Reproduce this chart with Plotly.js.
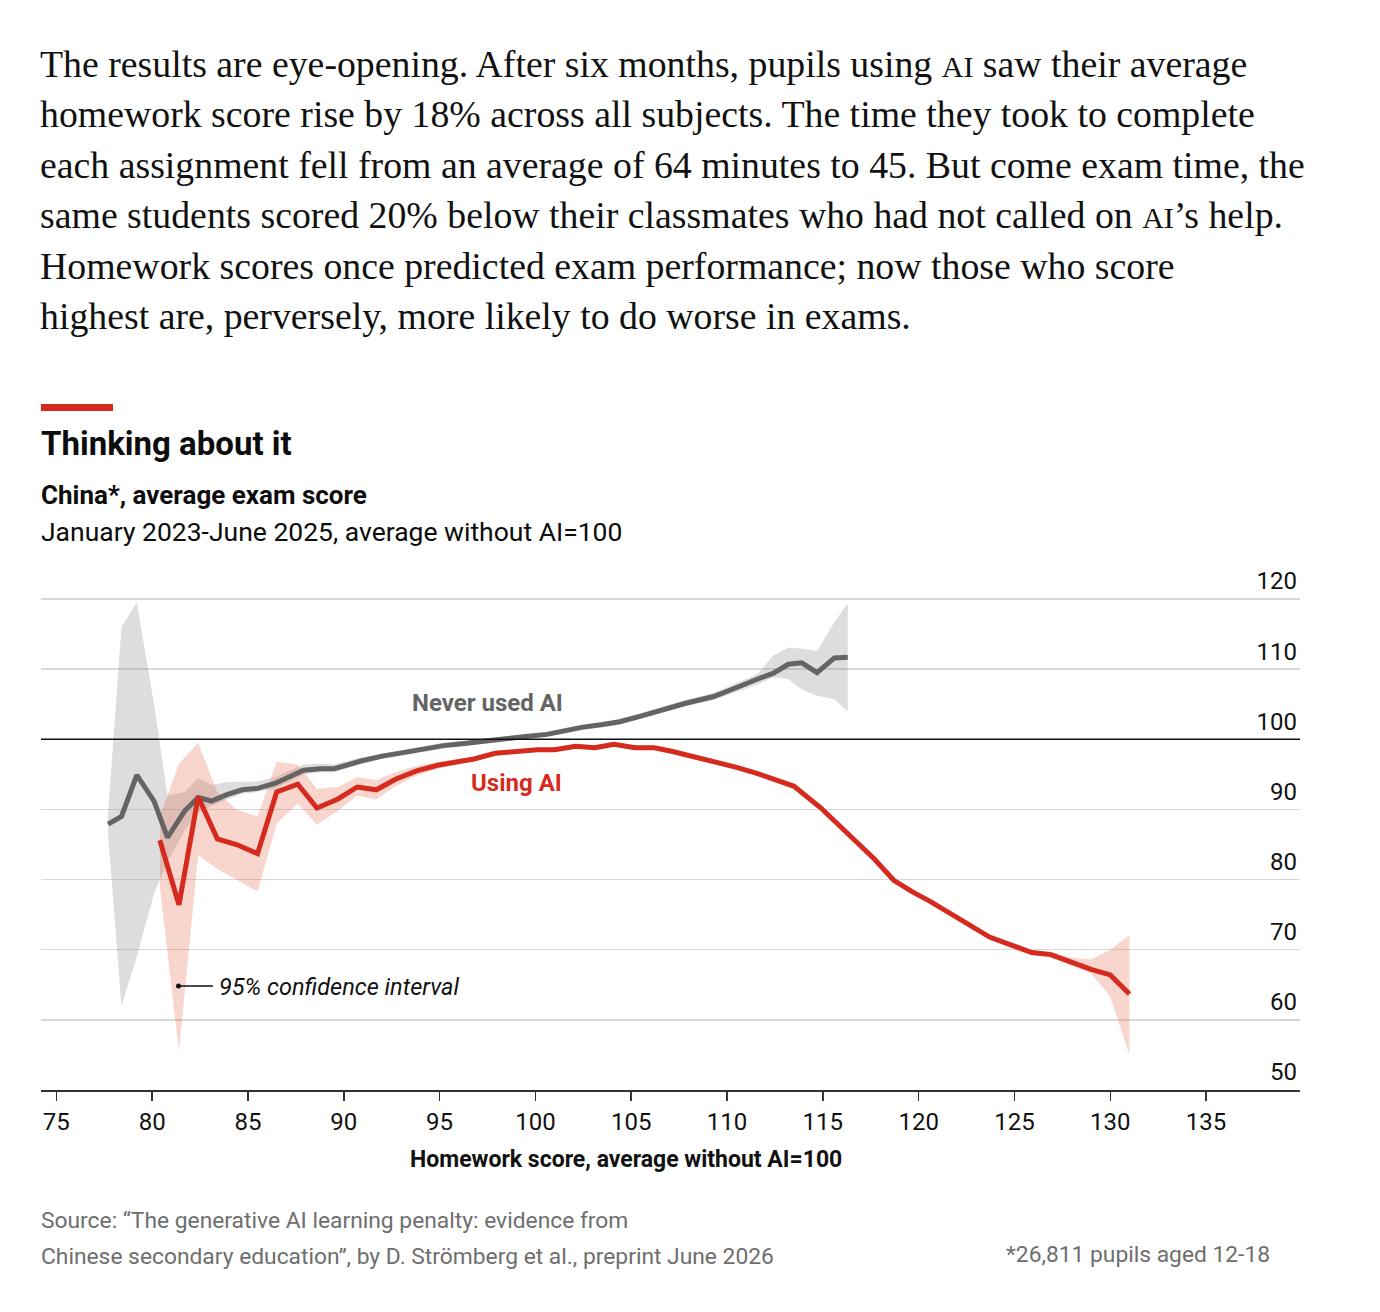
<!DOCTYPE html>
<html>
<head>
<meta charset="utf-8">
<script src="https://cdn.plot.ly/plotly-3.0.1.min.js"></script>
<style>
body{margin:0;background:#fff}
#chart{width:1380px;height:1312px}
</style>
</head>
<body>
<div id="chart"></div>
<script>
// ---------- DATA ----------
const xTicks = [75, 80, 85, 90, 95, 100, 105, 110, 115, 120, 125, 130, 135];
const yTicks = [50, 60, 70, 80, 90, 100, 110, 120];

// Never used AI
const grayX  = [77.7, 78.4, 79.2, 80.1, 80.8, 81.7, 82.4, 83.1, 83.9, 84.7, 85.5, 86.4, 87.2, 87.9, 88.8, 89.5, 90.9, 92.0, 93.1, 94.2, 95.2, 96.3, 97.4, 98.5, 99.5, 100.6, 101.3, 102.4, 103.5, 104.4, 105.5, 106.6, 107.8, 109.3, 110.0, 110.7, 111.6, 112.4, 113.2, 113.9, 114.7, 115.6, 116.3];
const grayY  = [87.9, 89.0, 94.9, 91.2, 86.0, 89.8, 91.7, 91.2, 92.1, 92.8, 93.0, 93.7, 94.7, 95.6, 95.8, 95.8, 96.9, 97.6, 98.1, 98.6, 99.1, 99.4, 99.8, 100.1, 100.4, 100.7, 101.1, 101.7, 102.1, 102.5, 103.3, 104.2, 105.1, 106.1, 106.8, 107.6, 108.6, 109.4, 110.7, 110.9, 109.5, 111.6, 111.7];
const grayLo = [86.5, 62.0, 69.0, 78.0, 82.5, 87.0, 89.5, 90.5, 91.4, 92.2, 92.5, 93.0, 94.0, 95.0, 95.3, 95.3, 96.5, 97.2, 97.7, 98.2, 98.7, 99.1, 99.5, 99.8, 100.1, 100.4, 100.7, 101.3, 101.7, 102.1, 102.9, 103.8, 104.7, 105.6, 106.2, 106.9, 107.8, 108.8, 108.6, 107.1, 106.2, 105.7, 104.0];
const grayHi = [89.5, 116.0, 119.5, 105.0, 92.0, 92.5, 94.5, 93.5, 93.9, 94.0, 94.0, 94.6, 95.5, 96.4, 96.5, 96.4, 97.4, 98.0, 98.5, 99.0, 99.5, 99.8, 100.1, 100.4, 100.7, 101.0, 101.4, 102.0, 102.4, 102.9, 103.7, 104.6, 105.6, 106.6, 107.4, 108.3, 109.3, 111.9, 113.1, 112.9, 112.6, 116.7, 119.4];

// Using AI
const redX  = [80.4, 81.4, 82.4, 83.4, 84.4, 85.5, 86.5, 87.6, 88.6, 89.7, 90.7, 91.7, 92.7, 93.8, 94.9, 95.9, 96.8, 97.9, 99.0, 100.1, 101.0, 102.1, 103.1, 104.1, 105.2, 106.2, 107.1, 108.2, 109.4, 110.5, 111.6, 112.5, 113.5, 114.9, 116.4, 117.7, 118.7, 119.7, 120.6, 121.7, 122.7, 123.7, 124.8, 125.9, 126.9, 127.9, 129.0, 130.0, 131.0];
const redY  = [85.6, 76.4, 91.8, 85.8, 85.0, 83.7, 92.5, 93.6, 90.2, 91.5, 93.2, 92.8, 94.3, 95.5, 96.3, 96.8, 97.2, 98.0, 98.3, 98.5, 98.5, 99.0, 98.8, 99.3, 98.8, 98.8, 98.3, 97.6, 96.8, 96.0, 95.1, 94.3, 93.3, 90.2, 86.4, 82.9, 79.9, 78.2, 76.9, 75.1, 73.6, 71.8, 70.7, 69.6, 69.3, 68.3, 67.2, 66.4, 63.7];
const redLo = [79.0, 55.5, 83.5, 81.5, 80.0, 78.3, 88.0, 90.8, 87.8, 89.8, 92.0, 91.4, 93.3, 94.8, 95.8, 96.4, 96.9, 97.7, 98.0, 98.2, 98.2, 98.7, 98.5, 99.0, 98.5, 98.5, 98.0, 97.3, 96.5, 95.7, 94.8, 94.0, 93.0, 89.9, 86.1, 82.6, 79.6, 77.9, 76.6, 74.8, 73.3, 71.5, 70.4, 69.3, 68.9, 67.8, 66.6, 63.3, 55.0];
const redHi = [89.0, 96.5, 99.5, 92.5, 90.0, 89.0, 96.8, 96.4, 92.9, 93.2, 94.6, 94.2, 95.3, 96.2, 96.8, 97.2, 97.5, 98.3, 98.6, 98.8, 98.8, 99.3, 99.1, 99.6, 99.1, 99.1, 98.6, 97.9, 97.1, 96.3, 95.4, 94.6, 93.6, 90.5, 86.7, 83.2, 80.2, 78.5, 77.2, 75.4, 73.9, 72.1, 71.0, 69.9, 69.7, 68.9, 68.6, 70.0, 72.1];

const bodyLines = [
  'The results are eye-opening. After six months, pupils using <span style="font-size:30px">AI</span> saw their average',
  'homework score rise by 18% across all subjects. The time they took to complete',
  'each assignment fell from an average of 64 minutes to 45. But come exam time, the',
  'same students scored 20% below their classmates who had not called on <span style="font-size:30px">AI</span>’s help.',
  'Homework scores once predicted exam performance; now those who score',
  'highest are, perversely, more likely to do worse in exams.'
];

// ---------- LAYOUT HELPERS ----------
const L = 41, R = 1300, T = 592, B = 1090, W = 1380, H = 1312;
const X = px => (px - L) / (R - L);
const Y = py => (B - py) / (B - T);
const SANS = "Roboto, sans-serif";
const SERIF = "'Liberation Serif', serif";
const RED = '#d52b1e', GRAY = '#646464';

function ann(text, px, py, size, color, xanchor, family) {
  return {text: text, x: X(px), y: Y(py), xref: 'paper', yref: 'paper',
    xanchor: xanchor || 'left', yanchor: 'middle', showarrow: false,
    font: {family: family || SANS, size: size, color: color || '#111'}};
}

const annotations = [];
bodyLines.forEach((t, i) => annotations.push(ann(t, 38, 64 + i * 50.4, 37.8, '#111', 'left', SERIF)));
annotations.push(ann('<b>Thinking about it</b>', 39, 443, 33, '#0c0c0c'));
annotations.push(ann('<b>China*, average exam score</b>', 39, 495, 26, '#0c0c0c'));
annotations.push(ann('January 2023-June 2025, average without AI=100', 39, 531, 26.5, '#0c0c0c'));
annotations.push(ann('<b>Never used AI</b>', 487, 703, 24, GRAY, 'center'));
annotations.push(ann('<b>Using AI</b>', 516, 783, 24, RED, 'center'));
annotations.push(ann('<i>95% confidence interval</i>', 217, 987, 23.5, '#111'));
annotations.push(ann('<b>Homework score, average without AI=100</b>', 626, 1159, 23, '#111', 'center'));
annotations.push(ann('Source: “The generative AI learning penalty: evidence from', 39, 1220, 22.8, '#6e6e6e'));
annotations.push(ann('Chinese secondary education”, by D. Strömberg et al., preprint June 2026', 39, 1256, 22.8, '#6e6e6e'));
annotations.push(ann('*26,811 pupils aged 12-18', 1272, 1254, 22.8, '#6e6e6e', 'right'));

const shapes = [
  {type: 'rect', xref: 'paper', yref: 'paper', x0: X(41), x1: X(113), y0: Y(404), y1: Y(411),
   fillcolor: RED, line: {width: 0}},
  {type: 'line', xref: 'paper', yref: 'y', x0: 0, x1: 1, y0: 100, y1: 100,
   line: {color: '#111', width: 1.6}, layer: 'above'},
  {type: 'line', xref: 'paper', yref: 'paper', x0: X(179), x1: X(213), y0: Y(986), y1: Y(986),
   line: {color: '#111', width: 1.3}},
  {type: 'circle', xref: 'paper', yref: 'paper', x0: X(176), x1: X(181), y0: Y(983.5), y1: Y(988.5),
   fillcolor: '#111', line: {width: 0}}
];

const traces = [
  {x: grayX.concat(grayX.slice().reverse()), y: grayHi.concat(grayLo.slice().reverse()),
   type: 'scatter', mode: 'lines', fill: 'toself', fillcolor: 'rgba(150,150,150,0.32)',
   line: {width: 0}, hoverinfo: 'skip', showlegend: false},
  {x: redX.concat(redX.slice().reverse()), y: redHi.concat(redLo.slice().reverse()),
   type: 'scatter', mode: 'lines', fill: 'toself', fillcolor: 'rgba(230,105,75,0.27)',
   line: {width: 0}, hoverinfo: 'skip', showlegend: false},
  {x: grayX, y: grayY, type: 'scatter', mode: 'lines', name: 'Never used AI',
   line: {color: GRAY, width: 5}, showlegend: false},
  {x: redX, y: redY, type: 'scatter', mode: 'lines', name: 'Using AI',
   line: {color: RED, width: 5}, showlegend: false}
];

const layout = {
  width: W, height: H,
  margin: {l: L, r: W - R, t: T, b: H - B, pad: 0},
  paper_bgcolor: '#fff', plot_bgcolor: '#fff',
  showlegend: false,
  xaxis: {range: [74.2, 139.9], tickvals: xTicks, ticktext: xTicks.map(String),
    ticks: 'outside', ticklen: 9, tickwidth: 1.5, tickcolor: '#333',
    showline: true, linecolor: '#333', linewidth: 2, showgrid: false, zeroline: false,
    tickfont: {family: SANS, size: 24, color: '#111'}, ticklabelstandoff: 0, fixedrange: true},
  yaxis: {range: [50, 121], tickvals: yTicks, ticktext: yTicks.map(String), side: 'right',
    ticks: '', showline: false, zeroline: false, showgrid: true,
    gridcolor: '#d8d8d8', gridwidth: 1.5,
    ticklabelposition: 'inside', ticklabelshift: -18, ticklabeloverflow: 'allow',
    tickfont: {family: SANS, size: 24, color: '#111'}, fixedrange: true},
  annotations: annotations,
  shapes: shapes
};

Plotly.newPlot('chart', traces, layout, {staticPlot: true, displayModeBar: false});
</script>
</body>
</html>
